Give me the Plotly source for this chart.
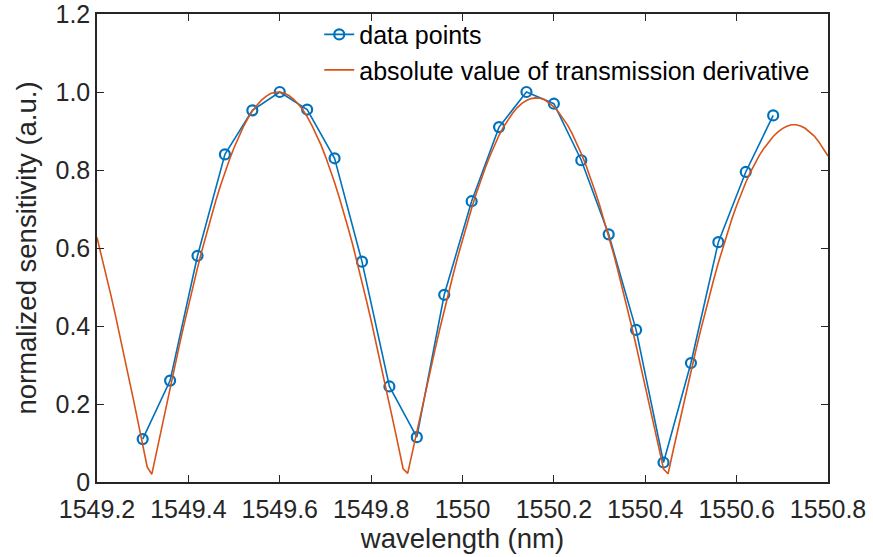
import plotly.graph_objects as go

# measured data points
data_wl = [1549.30, 1549.36, 1549.42, 1549.48, 1549.54, 1549.60, 1549.66, 1549.72,
           1549.78, 1549.84, 1549.90, 1549.96, 1550.02, 1550.08, 1550.14, 1550.20,
           1550.26, 1550.32, 1550.38, 1550.44, 1550.50, 1550.56, 1550.62, 1550.68]
data_sens = [0.11, 0.26, 0.58, 0.84, 0.953, 1.00, 0.955, 0.83,
             0.565, 0.245, 0.115, 0.48, 0.72, 0.91, 1.00, 0.97,
             0.825, 0.635, 0.39, 0.05, 0.305, 0.615, 0.795, 0.94]

# absolute value of transmission derivative, read at 0.01 nm steps from 1549.20 to 1550.80
deriv_start = 1549.20
deriv_step = 0.01
deriv_vals = [
    0.627, 0.580, 0.532, 0.481, 0.429, 0.376, 0.322, 0.266, 0.210, 0.153, 0.095, 0.038,
    0.020, 0.076, 0.132, 0.187, 0.242, 0.296, 0.349, 0.401, 0.452, 0.501, 0.549, 0.595,
    0.639, 0.681, 0.721, 0.759, 0.794, 0.827, 0.857, 0.885, 0.910, 0.932, 0.951, 0.966,
    0.979, 0.989, 0.996, 0.999, 1.000, 0.997, 0.991, 0.982, 0.970, 0.955, 0.937, 0.915,
    0.891, 0.865, 0.835, 0.803, 0.768, 0.731, 0.692, 0.650, 0.607, 0.561, 0.514, 0.464,
    0.414, 0.362, 0.309, 0.255, 0.201, 0.145, 0.090, 0.034,
    0.022, 0.076, 0.130, 0.184, 0.237, 0.289, 0.340, 0.391, 0.440, 0.488, 0.534, 0.579,
    0.622, 0.663, 0.702, 0.739, 0.774, 0.806, 0.836, 0.864, 0.889, 0.911, 0.930, 0.946,
    0.960, 0.971, 0.978, 0.983, 0.985, 0.984, 0.980, 0.972, 0.962, 0.949, 0.933, 0.915,
    0.893, 0.869, 0.842, 0.813, 0.781, 0.746, 0.710, 0.671, 0.630, 0.588, 0.543, 0.497,
    0.449, 0.400, 0.350, 0.299, 0.247, 0.194, 0.141, 0.087, 0.033,
    0.021, 0.075, 0.128, 0.181, 0.233, 0.284, 0.334, 0.383, 0.430, 0.476, 0.520, 0.562,
    0.602, 0.640, 0.676, 0.709, 0.740, 0.768, 0.794, 0.817, 0.838, 0.856, 0.872, 0.886,
    0.897, 0.906, 0.912, 0.916, 0.916, 0.913, 0.907, 0.898, 0.887, 0.872, 0.855, 0.836,
]
deriv_wl = [round(deriv_start + i * deriv_step, 2) for i in range(len(deriv_vals))]

x_ticks = [1549.2, 1549.4, 1549.6, 1549.8, 1550.0, 1550.2, 1550.4, 1550.6, 1550.8]
x_ticktext = ["1549.2", "1549.4", "1549.6", "1549.8", "1550", "1550.2", "1550.4", "1550.6", "1550.8"]
y_ticks = [0, 0.2, 0.4, 0.6, 0.8, 1.0, 1.2]
y_ticktext = ["0", "0.2", "0.4", "0.6", "0.8", "1.0", "1.2"]

FONT = "Liberation Sans, Arial, Helvetica, sans-serif"
AXC = "#262626"

fig = go.Figure()
fig.add_trace(go.Scatter(
    x=data_wl, y=data_sens, mode="lines+markers", name="data points",
    line=dict(color="#0072BD", width=1.6),
    marker=dict(symbol="circle-open", size=10, color="#0072BD", line=dict(width=2.2, color="#0072BD")),
))
fig.add_trace(go.Scatter(
    x=deriv_wl, y=deriv_vals, mode="lines", name="absolute value of transmission derivative",
    line=dict(color="#D95319", width=1.6),
))

axis_common = dict(
    showgrid=False, zeroline=False, showline=True, linecolor=AXC, linewidth=1.5,
    mirror="allticks", ticks="inside", ticklen=7, tickwidth=1.3, tickcolor=AXC,
    tickfont=dict(family=FONT, size=25, color=AXC), automargin=False,
    ticklabeloverflow="allow",
)
fig.update_xaxes(range=[1549.2, 1550.8], tickvals=x_ticks, ticktext=x_ticktext,
                 ticklabelstandoff=4,
                 title=dict(text="wavelength (nm)", font=dict(family=FONT, size=27.5, color=AXC), standoff=7),
                 **axis_common)
fig.update_yaxes(range=[0, 1.2], tickvals=y_ticks, ticktext=y_ticktext,
                 title=dict(text="normalized sensitivity (a.u.)", font=dict(family=FONT, size=27.5, color=AXC), standoff=11),
                 **axis_common)

fig.update_layout(
    width=873, height=557,
    margin=dict(l=97, r=45, t=14, b=75, autoexpand=False),
    paper_bgcolor="white", plot_bgcolor="white",
    font=dict(family=FONT, color=AXC),
    legend=dict(x=0.304, y=1.005, xanchor="left", yanchor="top",
                bgcolor="rgba(0,0,0,0)", borderwidth=0,
                font=dict(family=FONT, size=25, color="black"),
                tracegroupgap=0),
    showlegend=True,
)

fig.write_html("out.html")
